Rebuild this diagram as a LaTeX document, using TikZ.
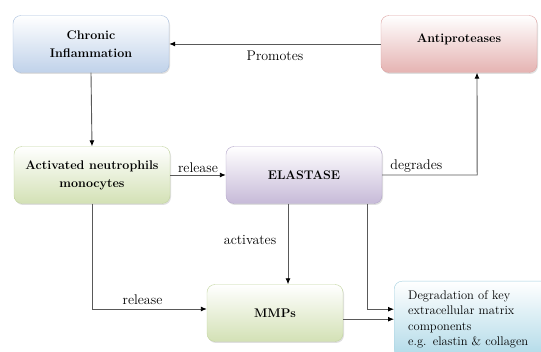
\documentclass[tikz,border=0pt]{standalone}
\usetikzlibrary{arrows.meta, shadows}
\usepackage{xcolor}

\definecolor{blueBot}{HTML}{C0D2EA}
\definecolor{blueEdge}{HTML}{A9BFDD}
\definecolor{redBot}{HTML}{E5B3B2}
\definecolor{redEdge}{HTML}{DDA3A2}
\definecolor{greenBot}{HTML}{D3E1B5}
\definecolor{greenEdge}{HTML}{C3D5A0}
\definecolor{purpleBot}{HTML}{C7BAD8}
\definecolor{purpleEdge}{HTML}{B3A5C9}
\definecolor{cyanBot}{HTML}{B1DAE8}
\definecolor{cyanEdge}{HTML}{A2D0E0}

\begin{document}
\begin{tikzpicture}[x=1pt, y=-1pt,
	every node/.style={font=\fontsize{14}{18}\selectfont},
	box/.style={draw, shape=rectangle, rounded corners=8pt, minimum width=156pt, minimum height=57pt,
		align=center, font=\fontsize{12.5}{18}\selectfont\bfseries,
		drop shadow={opacity=0.25, shadow xshift=1pt, shadow yshift=-1.5pt}},
	link/.style={draw=black!65, line width=0.9pt, -{Latex[length=6pt, width=5pt, black]}}]
		\useasboundingbox (0,0) rectangle (541,352);
		\clip (0,0) rectangle (541,352);

		\node[box, draw=blueEdge, top color=white, bottom color=blueBot] (chronic) at (91,44) {Chronic\\Inflammation};
		\node[box, draw=redEdge, top color=white, bottom color=redBot] (anti) at (459,44) {Antiproteases\\[-6pt]\mbox{}};
		\node[box, draw=greenEdge, top color=white, bottom color=greenBot] (act) at (92,175) {Activated neutrophils\\monocytes};
		\node[box, draw=purpleEdge, top color=white, bottom color=purpleBot] (elast) at (304,175) {ELASTASE};
		\node[box, draw=greenEdge, top color=white, bottom color=greenBot, minimum width=136pt] (mmp) at (275,313) {MMPs};
		\node[box, draw=cyanEdge, top color=white, bottom color=cyanBot, anchor=north west, minimum width=160pt,
			minimum height=76pt, text width=132pt, inner xsep=14pt, align=left,
			font=\fontsize{12.5}{15.5}\selectfont] (deg) at (394,281)
			{Degradation of key\\extracellular matrix\\components\\e.g. elastin \& collagen};

		\draw[link] (anti.west) -- node[below=3pt]{Promotes} (chronic.east);
		\draw[link] (chronic.south) -- (act.north);
		\draw[link] (act.east) -- node[above=-1pt]{release} (elast.west);
		\draw[link] (elast.east) -- node[above=-1pt, pos=0.36]{degrades} ++(95,0) -- ([xshift=18pt]anti.south);
		\draw[link] (act.south) |- node[above=1pt, pos=0.72]{release} ([yshift=4pt]mmp.west);
		\coordinate (ea) at ([xshift=-16pt]elast.south);
		\draw[link] (ea) -- node[left=8pt, pos=0.45]{activates} (ea |- mmp.north);
		\coordinate (eb) at ([xshift=63pt]elast.south);
		\draw[link] (eb) |- ([yshift=10pt]deg.west);
		\draw[link] (mmp.east |- deg.west) -- (deg.west);
	\end{tikzpicture}
\end{document}
